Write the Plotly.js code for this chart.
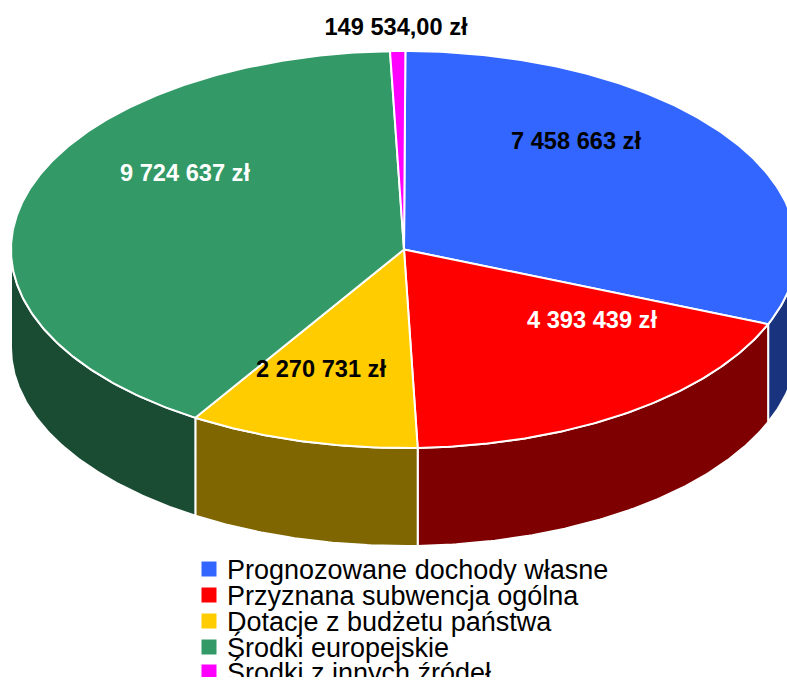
<!DOCTYPE html>
<html><head><meta charset="utf-8">
<script src="https://cdn.plot.ly/plotly-3.0.1.min.js"></script>
<style>html,body{margin:0;padding:0;background:#fff;overflow:hidden}#c{width:787px;height:680px}</style>
</head><body><div id="c"></div>
<script>
const categories = ["Prognozowane dochody własne","Przyznana subwencja ogólna","Dotacje z budżetu państwa","Środki europejskie","Środki z innych źródeł"];
const values = [7458663, 4393439, 2270731, 9724637, 149534];
const valueLabels = ["7 458 663 zł","4 393 439 zł","2 270 731 zł","9 724 637 zł","149 534,00 zł"];
const topColors = ["#3366FF","#FF0000","#FFCC00","#339966","#FF00FF"];
const sideColors = ["#19337F","#7F0000","#7F6600","#1A4C33","#7F007F"];
const labelColors = ["#000000","#FFFFFF","#000000","#FFFFFF","#000000"];
const labelX = [576, 592, 321, 185, 396];
const labelY = [143, 322, 371, 175, 29];
const cx = 404, cy = 249.5, rx = 393, ry = 198.5, depth = 98, startAngle = 0.0035;
const legendMarkerX = 209, legendTextX = 227, legendY = [569, 595, 621, 647, 672], legendTextY = [572, 598, 624, 650, 675];

const total = values.reduce((a,b)=>a+b,0);
const px = t => cx + rx*Math.sin(t);
const py = t => cy - ry*Math.cos(t);
function arc(a,b){const n=Math.max(2,Math.ceil((b-a)/0.01));const o=[];for(let i=0;i<=n;i++)o.push(a+(b-a)*i/n);return o;}

const sides=[], tops=[];
let a=startAngle;
values.forEach((v,i)=>{
  const b=a+v/total*2*Math.PI;
  const s=Math.max(a,Math.PI/2), e=Math.min(b,3*Math.PI/2);
  if(e>s){
    const ts=arc(s,e);
    const xs=ts.map(px), ys=ts.map(py);
    const xr=ts.slice().reverse().map(px), yr=ts.slice().reverse().map(t=>py(t)+depth);
    sides.push({type:'scatter',mode:'lines',x:[...xs,...xr,xs[0]],y:[...ys,...yr,ys[0]],fill:'toself',fillcolor:sideColors[i],line:{color:'#FFFFFF',width:2},hoverinfo:'skip',showlegend:false});
  }
  const ts=arc(a,b);
  tops.push({type:'scatter',mode:'lines',name:categories[i],x:[cx,...ts.map(px),cx],y:[cy,...ts.map(py),cy],fill:'toself',fillcolor:topColors[i],line:{color:'#FFFFFF',width:2},hoverinfo:'skip',showlegend:false});
  a=b;
});

const labels={type:'scatter',mode:'text',x:labelX,y:labelY,text:valueLabels,textposition:'middle center',
  textfont:{family:'"Liberation Sans",Arial,sans-serif',size:23.6,weight:700,color:labelColors},hoverinfo:'skip',showlegend:false};
const legendMarks={type:'scatter',mode:'markers',x:legendY.map(()=>legendMarkerX),y:legendY,
  marker:{symbol:'square',size:15,color:topColors,line:{width:0}},hoverinfo:'skip',showlegend:false};
const legendTexts={type:'scatter',mode:'text',x:legendY.map(()=>legendTextX),y:legendTextY,text:categories,textposition:'middle right',
  textfont:{family:'"Liberation Sans",Arial,sans-serif',size:27,color:'#000000'},hoverinfo:'skip',showlegend:false};

Plotly.newPlot('c',[...sides,...tops,labels,legendMarks,legendTexts],{
  width:787,height:680,margin:{l:0,r:0,t:0,b:0,pad:0},paper_bgcolor:'#FFFFFF',plot_bgcolor:'#FFFFFF',showlegend:false,
  xaxis:{range:[0,787],visible:false,fixedrange:true},
  yaxis:{range:[680,0],visible:false,fixedrange:true},
  shapes:[{type:'rect',layer:'above',xref:'paper',yref:'y',x0:0,x1:1,y0:677,y1:680,fillcolor:'#FFFFFF',line:{width:0}}]
},{displayModeBar:false,staticPlot:true});
</script></body></html>
